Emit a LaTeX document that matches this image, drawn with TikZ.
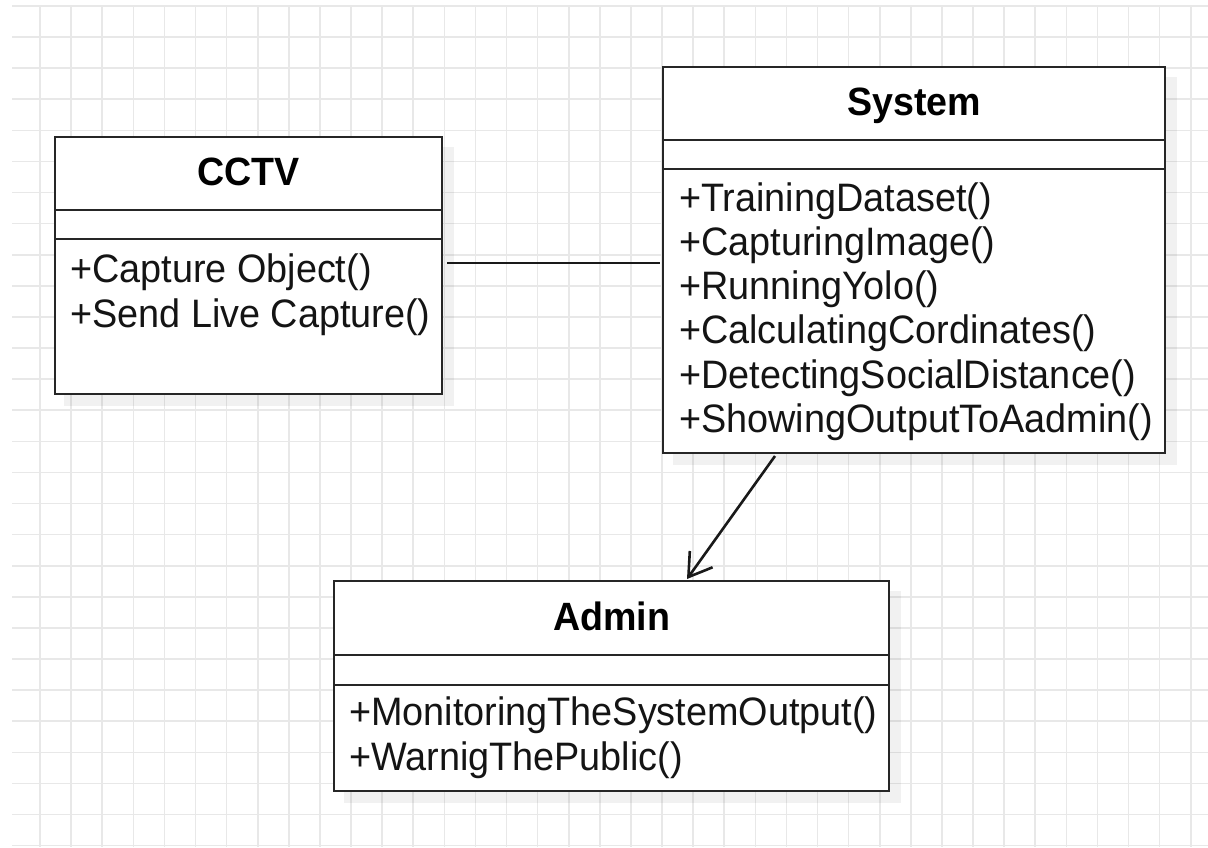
\documentclass[tikz,border=0pt]{standalone}
\usepackage{fontspec}
\setmainfont{Liberation Sans}
\usetikzlibrary{arrows.meta,calc}

\tikzset{
  classbox/.style={draw=black!85, line width=2.7pt, fill=white, rectangle,
    anchor=north west, inner sep=0pt, outer sep=0pt},
  boxshadow/.style={fill=black, opacity=0.055, draw=none},
  sepline/.style={draw=black!85, line width=2.5pt},
  classtitle/.style={font=\fontsize{37.6}{44.5}\selectfont\bfseries,
    anchor=base, inner sep=0pt, yscale=1.05},
  opline/.style={font=\fontsize{37.8}{44.5}\selectfont, anchor=base west,
    inner sep=0pt, text=black!92, yscale=1.05},
  gridline/.style={draw=black!9, line width=1.6pt},
  assoc/.style={draw=black!90, line width=2.6pt},
  navig/.style={draw=black!90, line width=2.6pt,
    -{Straight Barb[length=22pt,width=28pt,line width=2.6pt]}},
}

\begin{document}
\begin{tikzpicture}[x=1pt,y=-1pt]
  \useasboundingbox (0,0) rectangle (1208,847);
  \fill[white] (0,0) rectangle (1208,847);

  % background grid
  \begin{scope}
    \clip (12,5) rectangle (1208,847);
    \foreach \k in {0,...,38} {
      \draw[gridline] ({8.9+31.1*\k},0) -- ({8.9+31.1*\k},847);
    }
    \foreach \k in {0,...,27} {
      \draw[gridline] (0,{5.9+31.1*\k}) -- (1208,{5.9+31.1*\k});
    }
  \end{scope}

  % soft drop shadows
  \fill[boxshadow] (64,147) rectangle (454,406);
  \fill[boxshadow] (673,77) rectangle (1177,465);
  \fill[boxshadow] (344,591) rectangle (901,803);

  % CCTV class
  \node[classbox, minimum width=387pt, minimum height=257pt] (cctv) at (55,137) {};
  \draw[sepline] (55,210) -- (442,210);
  \draw[sepline] (55,239) -- (442,239);
  \node[classtitle] (cctvname) at (248.5,185) {CCTV};
  \node[opline] (cctvop1) at (70,282) {+Capture Object()};
  \node[opline] (cctvop2) at (70,327) {+Send Live Capture()};

  % System class
  \node[classbox, minimum width=502pt, minimum height=386pt] (system) at (663,67) {};
  \draw[sepline] (663,140) -- (1165,140);
  \draw[sepline] (663,169) -- (1165,169);
  \node[classtitle] (sysname) at (914,115) {System};
  \node[opline] (sysop1) at (679,211) {+TrainingDataset()};
  \node[opline] (sysop2) at (679,255.3) {+CapturingImage()};
  \node[opline] (sysop3) at (679,299.6) {+RunningYolo()};
  \node[opline] (sysop4) at (679,343.9) {+CalculatingCordinates()};
  \node[opline] (sysop5) at (679,388.2) {+DetectingSocialDistance()};
  \node[opline] (sysop6) at (679,432.5) {+ShowingOutputToAadmin()};

  % Admin class
  \node[classbox, minimum width=555pt, minimum height=210pt] (admin) at (334,581) {};
  \draw[sepline] (334,655) -- (889,655);
  \draw[sepline] (334,685) -- (889,685);
  \node[classtitle] (adminname) at (611.5,630) {Admin};
  \node[opline] (adminop1) at (349,725) {+MonitoringTheSystemOutput()};
  \node[opline] (adminop2) at (349,770) {+WarnigThePublic()};

  % associations
  \draw[assoc] ($(cctv.east |- 0,263)+(5,0)$) -- ($(system.west |- 0,263)+(-3,0)$);
  \draw[navig] ($(system.south west)+(112,3)$) -- ($(admin.north west)+(353,-2)$);
\end{tikzpicture}
\end{document}
